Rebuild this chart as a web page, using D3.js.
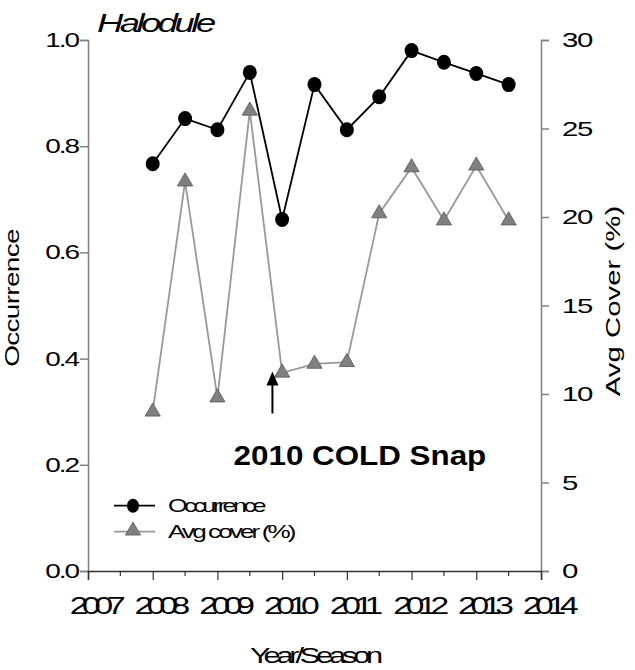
<!DOCTYPE html>
<html>
<head>
<meta charset="utf-8">
<script src="https://cdn.jsdelivr.net/npm/d3@7"></script>
<style>
body { margin: 0; background: #fff; }
text { font-family: "Liberation Sans", Arial, sans-serif; }
</style>
</head>
<body>
<svg id="chart" width="635" height="670"></svg>
<script>
// data
let seasons = [2008, 2008.5, 2009, 2009.5, 2010, 2010.5, 2011, 2011.5, 2012, 2012.5, 2013, 2013.5];
let occurrence = [0.767, 0.852, 0.831, 0.939, 0.662, 0.916, 0.831, 0.893, 0.980, 0.958, 0.937, 0.916];
let avgCover = [9.0, 22.0, 9.8, 26.0, 11.2, 11.7, 11.8, 20.2, 22.8, 19.8, 22.9, 19.8];
let yearTicks = [2007, 2008, 2009, 2010, 2011, 2012, 2013, 2014];
let leftTicks = [0, 0.2, 0.4, 0.6, 0.8, 1.0];
let rightTicks = [0, 5, 10, 15, 20, 25, 30];

let svg = d3.select('#chart');
let pad = {t: 40, r: 94, b: 99, l: 88};
let W = +svg.attr('width'), H = +svg.attr('height');
let cw = W - pad.l - pad.r;
let ch = H - pad.t - pad.b;

let x = d3.scaleLinear().domain([2007, 2014]).range([0, cw]);
let yL = d3.scaleLinear().domain([0, 1]).range([ch, 0]);
let yR = d3.scaleLinear().domain([0, 30]).range([ch, 0]);

let g = svg.append('g').attr('transform', `translate(${pad.l},${pad.t})`);

// the original text is wide and crammed together, so stretch it sideways
function stretchTicks(sel, size, ls, sx, dx){
    sel.selectAll('.tick text').each(function(){
        let t = d3.select(this);
        let tx = +t.attr('x') || 0;
        t.attr('x', 0)
            .attr('transform', `translate(${tx + dx},0) scale(${sx},1)`)
            .style('font-size', size + 'px')
            .style('letter-spacing', ls + 'px')
            .attr('fill', '#000');
    });
}

// left axis
let la = g.append('g')
    .call(d3.axisLeft(yL).tickValues(leftTicks).tickFormat(d3.format('.1f')).tickSizeOuter(0).tickSize(8).tickPadding(2));
la.select('.domain').attr('stroke', '#808080').attr('stroke-width', 1.5);
la.selectAll('line').attr('stroke', '#808080').attr('stroke-width', 1.5);
stretchTicks(la, 20, -1.5, 1.4, 0);

// right axis
let ra = g.append('g').attr('transform', `translate(${cw},0)`)
    .call(d3.axisRight(yR).tickValues(rightTicks).tickSizeOuter(0).tickSize(8).tickPadding(13));
ra.select('.domain').attr('stroke', '#808080').attr('stroke-width', 1.5);
ra.selectAll('line').attr('stroke', '#808080').attr('stroke-width', 1.5);
stretchTicks(ra, 21, -1, 1.4, 0);

// bottom axis: minor ticks every half year
let minor = d3.range(2007.5, 2014, 1);
g.append('g').attr('transform', `translate(0,${ch})`)
    .selectAll('line').data(minor).join('line')
    .attr('x1', d => x(d)).attr('x2', d => x(d))
    .attr('y1', 0).attr('y2', 5)
    .attr('stroke', '#333').attr('stroke-width', 1.2);
let ba = g.append('g').attr('transform', `translate(0,${ch})`)
    .call(d3.axisBottom(x).tickValues(yearTicks).tickFormat(d3.format('d')).tickSizeOuter(0).tickSize(9).tickPadding(17));
ba.select('.domain').attr('stroke', '#333').attr('stroke-width', 1.5);
ba.selectAll('line').attr('stroke', '#333').attr('stroke-width', 1.2);
stretchTicks(ba, 24, -4.5, 1.4, 6);

// avg cover series
let coverLine = d3.line().x((d, i) => x(seasons[i])).y(d => yR(d));
g.append('path').datum(avgCover)
    .attr('d', coverLine)
    .attr('fill', 'none').attr('stroke', '#999').attr('stroke-width', 1.8);
let tri = d3.symbol().type(d3.symbolTriangle).size(100);
g.selectAll('.tri').data(avgCover).join('path')
    .attr('class', 'tri')
    .attr('d', tri)
    .attr('transform', (d, i) => `translate(${x(seasons[i])},${yR(d)})`)
    .attr('fill', '#808080').attr('stroke', '#555').attr('stroke-width', 0.8);

// occurrence series
let occLine = d3.line().x((d, i) => x(seasons[i])).y(d => yL(d));
g.append('path').datum(occurrence)
    .attr('d', occLine)
    .attr('fill', 'none').attr('stroke', '#000').attr('stroke-width', 1.8);
g.selectAll('.dot').data(occurrence).join('ellipse')
    .attr('class', 'dot')
    .attr('cx', (d, i) => x(seasons[i])).attr('cy', d => yL(d))
    .attr('rx', 7).attr('ry', 7.5)
    .attr('fill', '#000');

// cold snap annotation
let arrowX = x(2009.85);
g.append('line')
    .attr('x1', arrowX).attr('x2', arrowX)
    .attr('y1', yR(8.9)).attr('y2', yR(10.6))
    .attr('stroke', '#000').attr('stroke-width', 2);
g.append('path')
    .attr('d', `M${arrowX - 6},${yR(10.6) + 2} L${arrowX},${yR(10.6) - 12} L${arrowX + 6},${yR(10.6) + 2} Z`)
    .attr('fill', '#000');
g.append('text')
    .attr('transform', `translate(${x(2009.25)},${yR(6.0)}) scale(1.12,1)`)
    .style('font-size', '28px').style('font-weight', 'bold')
    .text('2010 COLD Snap');

// legend
let legend = g.append('g').attr('transform', `translate(26, ${yL(0.123)})`);
legend.append('line').attr('x1', 0).attr('x2', 41).attr('y1', 0).attr('y2', 0)
    .attr('stroke', '#000').attr('stroke-width', 1.8);
legend.append('ellipse').attr('cx', 19).attr('cy', 0).attr('rx', 6).attr('ry', 7).attr('fill', '#000');
legend.append('text').attr('transform', 'translate(54,6) scale(1.4,1)')
    .style('font-size', '18px').style('letter-spacing', '-2.5px').text('Occurrence');
legend.append('line').attr('x1', 0).attr('x2', 41).attr('y1', 26).attr('y2', 26)
    .attr('stroke', '#999').attr('stroke-width', 1.8);
legend.append('path').attr('d', tri).attr('transform', 'translate(19,25)')
    .attr('fill', '#808080').attr('stroke', '#555').attr('stroke-width', 0.8);
legend.append('text').attr('transform', 'translate(54,32) scale(1.45,1)')
    .style('font-size', '18px').style('letter-spacing', '-2px').text('Avg cover (%)');

// titles
svg.append('text').attr('transform', 'translate(97,32) scale(1.4,1)')
    .style('font-size', '26px').style('font-style', 'italic').style('letter-spacing', '-2.5px')
    .text('Halodule');
svg.append('text')
    .attr('transform', `translate(19,298) rotate(-90) scale(1.4,1)`)
    .attr('text-anchor', 'middle')
    .style('font-size', '20px').style('letter-spacing', '-0.5px')
    .text('Occurrence');
svg.append('text')
    .attr('transform', `translate(620,301) rotate(-90) scale(1.4,1)`)
    .attr('text-anchor', 'middle')
    .style('font-size', '21px')
    .text('Avg Cover (%)');
svg.append('text')
    .attr('transform', `translate(${pad.l + cw / 2},663) scale(1.4,1)`)
    .attr('text-anchor', 'middle')
    .style('font-size', '22px').style('letter-spacing', '-3px')
    .text('Year/Season');
</script>
</body>
</html>
